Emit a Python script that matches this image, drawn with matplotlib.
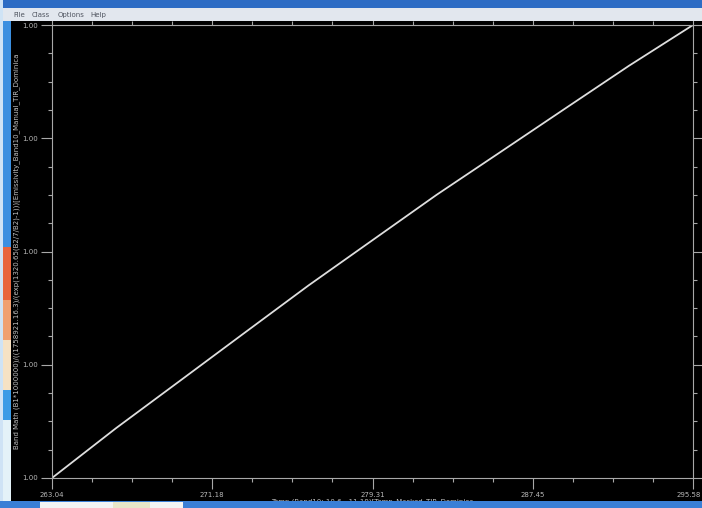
import matplotlib
matplotlib.use("Agg")
import matplotlib.pyplot as plt
import numpy as np
from matplotlib.patches import Rectangle
from matplotlib.ticker import FixedLocator, AutoMinorLocator, FormatStrFormatter
import matplotlib.transforms as mtransforms

# ---- data ----
temp = [263.04, 266.29, 269.55, 272.80, 276.06, 279.31, 282.56, 285.82, 289.07, 292.33, 295.58]
band_math = [0.99800, 0.99844, 0.99886, 0.99928, 0.99970, 1.00010, 1.00050, 1.00088, 1.00126, 1.00164, 1.00200]
x_ticks = [263.04, 271.175, 279.31, 287.445, 295.58]
x_tick_labels = ["263.04", "271.18", "279.31", "287.45", "295.58"]
y_ticks = [0.998, 0.999, 1.000, 1.001, 1.002]
menu_items = ["File", "Class", "Options", "Help"]
x_label = "Temp (Band10: 10.6\u201411.19)[Temp_Masked_TIR_Dominica"
y_label = "Band Math (B1*1000000)/((1758921.16.3)/(exp(1320.65(B2/7/B2)-1)))[Emissivity_Band10_Manual_TIR_Dominica"

W, H = 702, 508
fig = plt.figure(figsize=(W / 100, H / 100), dpi=100, facecolor="black")

def px_rect(x0, y0, x1, y1, color, z=0):
    # pixel coords from top-left
    fig.patches.append(Rectangle((x0 / W, 1 - y1 / H), (x1 - x0) / W, (y1 - y0) / H,
                                 transform=fig.transFigure, facecolor=color,
                                 edgecolor="none", zorder=z))

# window chrome
px_rect(0, 0, W, 8, "#2d6cc4")
px_rect(0, 8, W, 21, "#e2e7ee")
px_rect(0, 0, 3, H, "#cfe3f5")
px_rect(3, 21, 11, 247, "#3b8fe0")
px_rect(3, 247, 11, 300, "#e8653c")
px_rect(3, 300, 11, 340, "#f0a070")
px_rect(3, 340, 11, 390, "#f6e2c4")
px_rect(3, 390, 11, 420, "#3b9be6")
px_rect(3, 420, 11, 502, "#e4f2f8")
px_rect(0, 501, W, H, "#3a7fd6")
px_rect(40, 502, 113, H, "#f2f4f4")
px_rect(113, 502, 150, H, "#e8e6c8")
px_rect(150, 502, 183, H, "#f2f4f4")

menu_x = [13, 32, 58, 90]
for mx, item in zip(menu_x, menu_items):
    fig.text(mx / W, 1 - 15 / H, item, fontsize=5, color="#505560", va="center", ha="left")

# plot axes
L, R, T, B = 52, 693, 25, 478
ax = fig.add_axes([L / W, 1 - B / H, (R - L) / W, (B - T) / H])
ax.set_facecolor("black")
ax.plot(temp, band_math, color="#dedede", lw=1.3, solid_capstyle="round")

ax.set_xlim(x_ticks[0], x_ticks[-1])
ax.set_ylim(y_ticks[0], y_ticks[-1])
ax.xaxis.set_major_locator(FixedLocator(x_ticks))
ax.set_xticklabels(x_tick_labels)
ax.xaxis.set_minor_locator(AutoMinorLocator(4))
ax.yaxis.set_major_locator(FixedLocator(y_ticks))
ax.yaxis.set_major_formatter(FormatStrFormatter("%.2f"))
ax.yaxis.set_minor_locator(AutoMinorLocator(4))

for s in ax.spines.values():
    s.set_color("#a8a8a8")
    s.set_linewidth(0.8)

ax.tick_params(which="both", colors="#a8a8a8", labelcolor="#b8b8b8", labelsize=5,
               direction="out", top=True, right=True)
ax.tick_params(which="major", length=8, width=0.8, pad=2)
ax.tick_params(which="minor", length=3, width=0.8)

# keep the last x tick label inside the picture
last = ax.get_xticklabels()[-1]
last.set_transform(last.get_transform() + mtransforms.ScaledTranslation(-4 / 100, 0, fig.dpi_scale_trans))

ax.set_xlabel(x_label, fontsize=5, color="#c0c0c0", labelpad=0)
ax.set_ylabel(y_label, fontsize=5, color="#c0c0c0", labelpad=2)

fig.savefig("out.png", dpi=100, facecolor=fig.get_facecolor())
